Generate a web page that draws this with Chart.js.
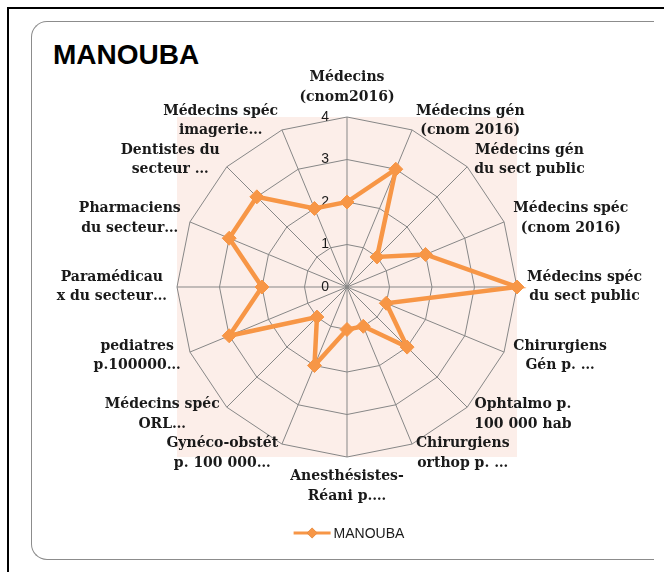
<!DOCTYPE html>
<html><head><meta charset="utf-8">
<script src="https://cdn.jsdelivr.net/npm/chart.js@4/dist/chart.umd.min.js"></script>
<style>
html,body{margin:0;padding:0;background:#fff;width:664px;height:572px;overflow:hidden;}
#outer{position:absolute;left:7px;top:7px;width:700px;height:700px;border-top:2px solid #000;border-left:2px solid #000;}
#panel{position:absolute;left:31px;top:21px;width:622px;height:537px;border:1.5px solid #8c8c8c;border-right:none;border-radius:16px 0 0 16px;}
#title{position:absolute;left:53px;top:41px;font:bold 28px "Liberation Sans",Arial,sans-serif;line-height:28px;color:#000;}
#wrap{position:absolute;left:0;top:0;width:664px;height:572px;}
</style></head><body>
<div id="outer"></div><div id="panel"></div><div id="title">MANOUBA</div>
<div id="wrap"><canvas id="c" width="664" height="572"></canvas></div>
<script>
const seriesName = 'MANOUBA';
const categories = [
  ['Médecins', '(cnom2016)'],
  ['Médecins gén', '(cnom 2016)'],
  ['Médecins gén', 'du sect public'],
  ['Médecins spéc', '(cnom 2016)'],
  ['Médecins spéc', 'du sect public'],
  ['Chirurgiens', 'Gén p. …'],
  ['Ophtalmo p.', '100 000 hab'],
  ['Chirurgiens', 'orthop p. …'],
  ['Anesthésistes-', 'Réani p.…'],
  ['Gynéco-obstét', 'p. 100 000…'],
  ['Médecins spéc', 'ORL…'],
  ['pediatres', 'p.100000…'],
  ['Paramédicau', 'x du secteur…'],
  ['Pharmaciens', 'du secteur…'],
  ['Dentistes du', 'secteur …'],
  ['Médecins spéc', 'imagerie…']
];
const values = [2, 3, 1, 2, 4, 1, 2, 1, 1, 2, 1, 3, 2, 3, 3, 2];
const tickValues = [0, 1, 2, 3, 4];

const ORANGE = '#F79646';
const GRID = '#878787';

const plotBg = {
  id: 'plotBg',
  beforeDraw(chart) {
    const {ctx, chartArea: a} = chart;
    ctx.save();
    ctx.fillStyle = '#FCEEE9';
    ctx.fillRect(a.left, a.top, a.right - a.left, a.bottom - a.top);
    ctx.restore();
  }
};

const tickPlugin = {
  id: 'tickPlugin',
  beforeDatasetsDraw(chart) {
    const s = chart.scales.r, ctx = chart.ctx;
    ctx.save();
    ctx.font = '14px "Liberation Sans", Arial, sans-serif';
    ctx.fillStyle = '#1a1a1a';
    ctx.textAlign = 'right';
    ctx.textBaseline = 'middle';
    s.ticks.forEach(t => {
      const d = s.getDistanceFromCenterForValue(t.value);
      ctx.fillText(String(t.value), s.xCenter - 18, s.yCenter - d);
    });
    ctx.restore();
  }
};

const labelPlugin = {
  id: 'labelPlugin',
  afterDraw(chart) {
    const s = chart.scales.r, ctx = chart.ctx;
    ctx.save();
    ctx.font = 'bold 14px "DejaVu Serif", serif';
    ctx.fillStyle = '#1a1a1a';
    ctx.textAlign = 'center';
    ctx.textBaseline = 'middle';
    const lh = 19.5;
    chart.data.labels.forEach((lab, i) => {
      const lines = Array.isArray(lab) ? lab : [lab];
      const p = s.getPointPosition(i, s.drawingArea + 10);
      const w = Math.max(...lines.map(l => ctx.measureText(l).width));
      const h = lines.length * lh;
      const dx = p.x - s.xCenter, dy = p.y - s.yCenter;
      let cx, cy;
      if (Math.abs(dx) < 1) { cx = p.x; cy = dy < 0 ? p.y - h / 2 : p.y + h / 2; }
      else { cx = dx > 0 ? p.x + w / 2 : p.x - w / 2; cy = p.y; }
      lines.forEach((l, k) => ctx.fillText(l, cx, cy - h / 2 + lh * (k + 0.5)));
    });
    // legend
    const ds = chart.data.datasets[0];
    ctx.font = '14px "Liberation Sans", Arial, sans-serif';
    const tw = ctx.measureText(ds.label).width;
    const total = 40 + tw;
    const lx = s.xCenter - total / 2 + 2;
    const ly = 533;
    ctx.strokeStyle = ORANGE;
    ctx.lineWidth = 3;
    ctx.beginPath(); ctx.moveTo(lx, ly); ctx.lineTo(lx + 37, ly); ctx.stroke();
    Chart.helpers.drawPoint(ctx, {pointStyle: 'rectRot', radius: 5, rotation: 0, borderWidth: 0}, lx + 18.5, ly);
    ctx.fillStyle = ORANGE;
    ctx.beginPath();
    ctx.moveTo(lx + 18.5, ly - 5.5); ctx.lineTo(lx + 24, ly); ctx.lineTo(lx + 18.5, ly + 5.5); ctx.lineTo(lx + 13, ly);
    ctx.closePath(); ctx.fill();
    ctx.fillStyle = '#1a1a1a';
    ctx.textAlign = 'left';
    ctx.fillText(ds.label, lx + 40, ly + 1);
    ctx.restore();
  }
};

new Chart(document.getElementById('c'), {
  type: 'radar',
  data: {
    labels: categories,
    datasets: [{
      label: seriesName,
      data: values,
      borderColor: ORANGE,
      backgroundColor: ORANGE,
      borderWidth: 4.5,
      fill: false,
      tension: 0,
      pointStyle: 'rectRot',
      pointRadius: 7,
      pointBorderWidth: 1,
      pointBackgroundColor: ORANGE,
      pointBorderColor: ORANGE
    }]
  },
  options: {
    responsive: false,
    animation: false,
    devicePixelRatio: 1,
    layout: {padding: {left: 177, right: 147, top: 117, bottom: 115}},
    plugins: {legend: {display: false}, tooltip: {enabled: false}, title: {display: false}},
    scales: {
      r: {
        min: tickValues[0],
        max: tickValues[tickValues.length - 1],
        startAngle: 0,
        ticks: {display: false, stepSize: 1},
        pointLabels: {display: false},
        grid: {color: GRID, lineWidth: 1, circular: false},
        angleLines: {color: GRID, lineWidth: 1}
      }
    }
  },
  plugins: [plotBg, tickPlugin, labelPlugin]
});
</script>
</body></html>
